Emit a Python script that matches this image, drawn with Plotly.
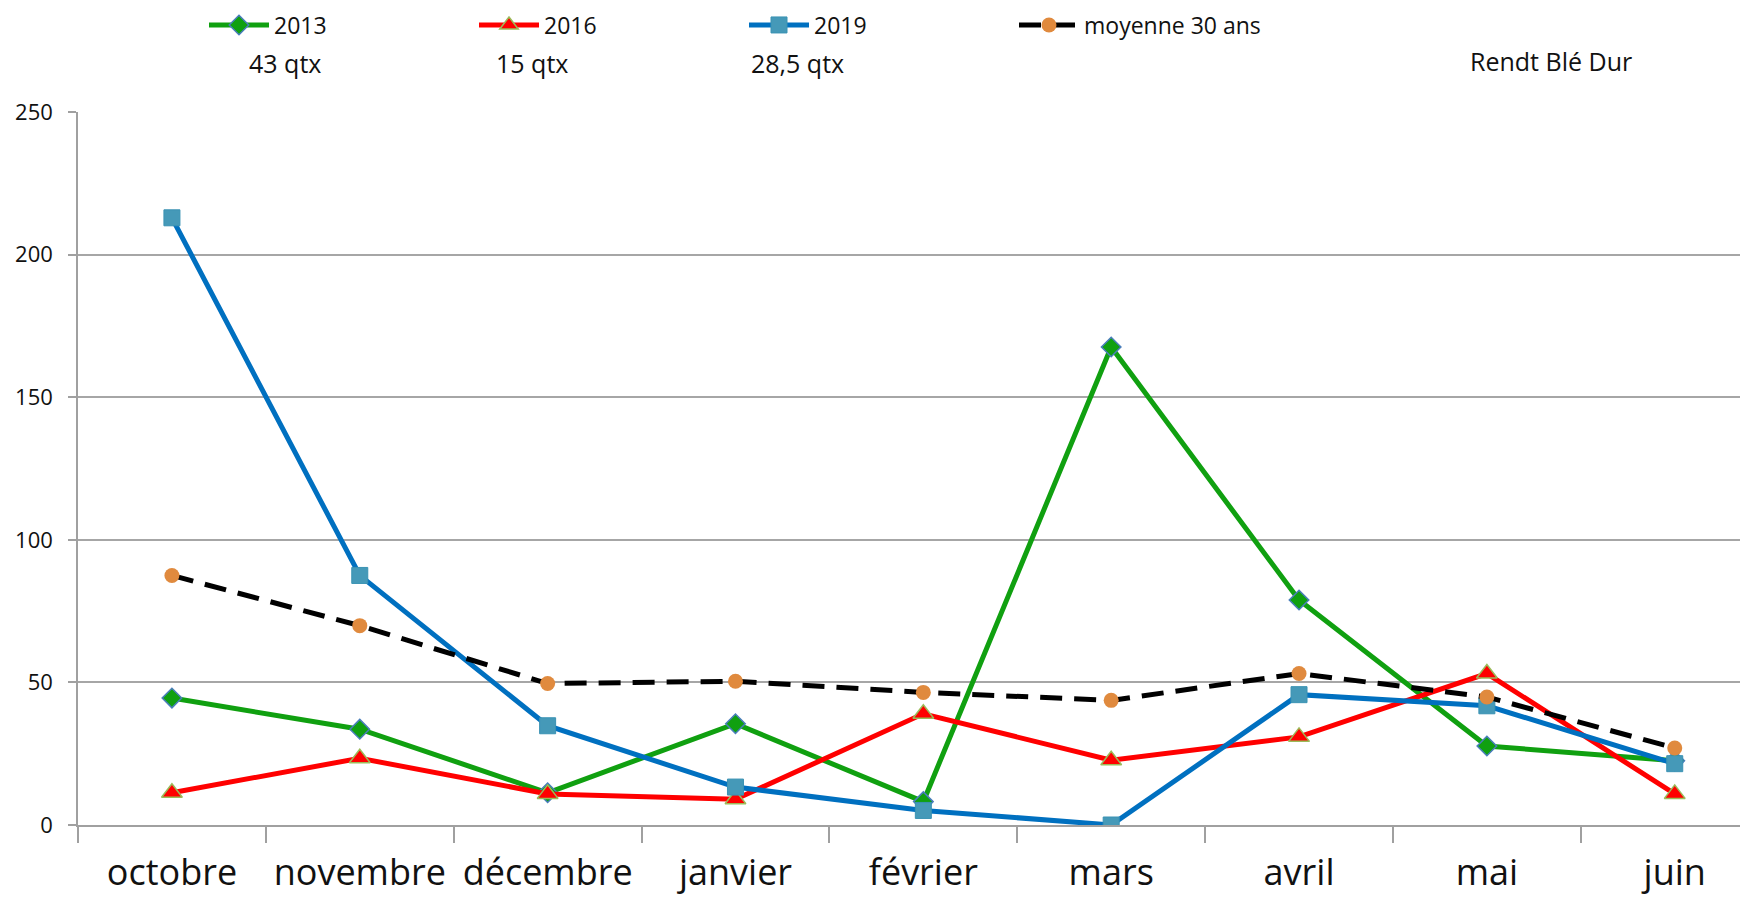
import plotly.graph_objects as go

mois = ["octobre", "novembre", "décembre", "janvier", "février", "mars", "avril", "mai", "juin"]
pluie_2013 = [44.5, 33.6, 11.3, 35.5, 8.2, 167.6, 78.9, 27.7, 22.5]
pluie_2016 = [11.3, 23.4, 10.9, 9.0, 39.0, 22.7, 30.9, 53.1, 10.9]
pluie_2019 = [212.9, 87.5, 34.8, 13.3, 5.1, 0.0, 45.7, 41.8, 21.5]
moyenne_30 = [87.5, 69.9, 49.6, 50.4, 46.5, 43.7, 53.1, 44.9, 27.0]
y_ticks = [0, 50, 100, 150, 200, 250]

FONT = "Open Sans"
# page is offset by the 8px body margin
OFF = 8
W, H = 1748 - OFF, 901 - OFF
L, T, B = 78 - OFF, 112 - OFF, 76
PW = W - L
PH = H - T - B


def px(xp):
    return (xp - OFF - L) / PW


def py(yp):
    return (H - B - (yp - OFF)) / PH


fig = go.Figure()

fig.add_trace(go.Scatter(
    x=mois, y=pluie_2013, name="2013", mode="lines+markers",
    line=dict(color="#10A010", width=5),
    marker=dict(symbol="diamond", size=15, color="#10A010",
                line=dict(color="#4A7EBB", width=1.5)),
))
fig.add_trace(go.Scatter(
    x=mois, y=pluie_2016, name="2016", mode="lines+markers",
    line=dict(color="#FF0000", width=5),
    marker=dict(symbol="triangle-up", size=18, color="#FF0000",
                line=dict(color="#9BBB59", width=1.5)),
))
fig.add_trace(go.Scatter(
    x=mois, y=pluie_2019, name="2019", mode="lines+markers",
    line=dict(color="#0070C0", width=5),
    marker=dict(symbol="square", size=16, color="#4599B8",
                line=dict(color="#3A92B3", width=1)),
))
fig.add_trace(go.Scatter(
    x=mois, y=moyenne_30, name="moyenne 30 ans", mode="lines+markers",
    line=dict(color="#000000", width=5, dash="22px,12px"),
    marker=dict(symbol="circle", size=15, color="#E08A3E"),
))

annots = [
    dict(text="43 qtx", x=247, y=63, size=25),
    dict(text="15 qtx", x=494, y=63, size=25),
    dict(text="28,5 qtx", x=749, y=63, size=25),
    dict(text="Rendt Blé Dur", x=1468, y=61, size=25),
]
annotations = []
for a in annots:
    annotations.append(dict(
        text=a["text"], xref="paper", yref="paper",
        x=px(a["x"]), y=py(a["y"]),
        xanchor="left", yanchor="middle", showarrow=False,
        font=dict(family=FONT, size=a["size"], color="#111111"),
    ))

fig.update_layout(
    width=W, height=H,
    margin=dict(l=L, r=0, t=T, b=B, autoexpand=False),
    paper_bgcolor="white", plot_bgcolor="white",
    font=dict(family=FONT, color="#111111"),
    showlegend=True,
    legend=dict(
        orientation="h", x=px(204), y=py(25),
        xanchor="left", yanchor="middle",
        font=dict(family=FONT, size=23, color="#111111"),
        itemwidth=60,
        entrywidth=195, entrywidthmode="pixels",
        bgcolor="rgba(0,0,0,0)",
    ),
    annotations=annotations,
    xaxis=dict(
        type="category", range=[-0.5, 8.39], automargin=False,
        tickson="boundaries", ticks="outside", ticklen=16, tickcolor="#A0A0A0", tickwidth=1.5,
        showline=True, linecolor="#A0A0A0", linewidth=1.5,
        showgrid=False,
        tickfont=dict(family=FONT, size=36, color="#111111"),
        ticklabelstandoff=15,
    ),
    yaxis=dict(
        range=[0, 250], tickvals=y_ticks, automargin=False,
        ticks="outside", ticklen=8, tickcolor="#A0A0A0", tickwidth=1.5,
        showline=True, linecolor="#A0A0A0", linewidth=1.5,
        showgrid=True, gridcolor="#A6A6A6", gridwidth=1.5,
        zeroline=False,
        tickfont=dict(family=FONT, size=22, color="#111111"),
        ticklabelstandoff=11,
    ),
)

fig.write_html("out.html")
